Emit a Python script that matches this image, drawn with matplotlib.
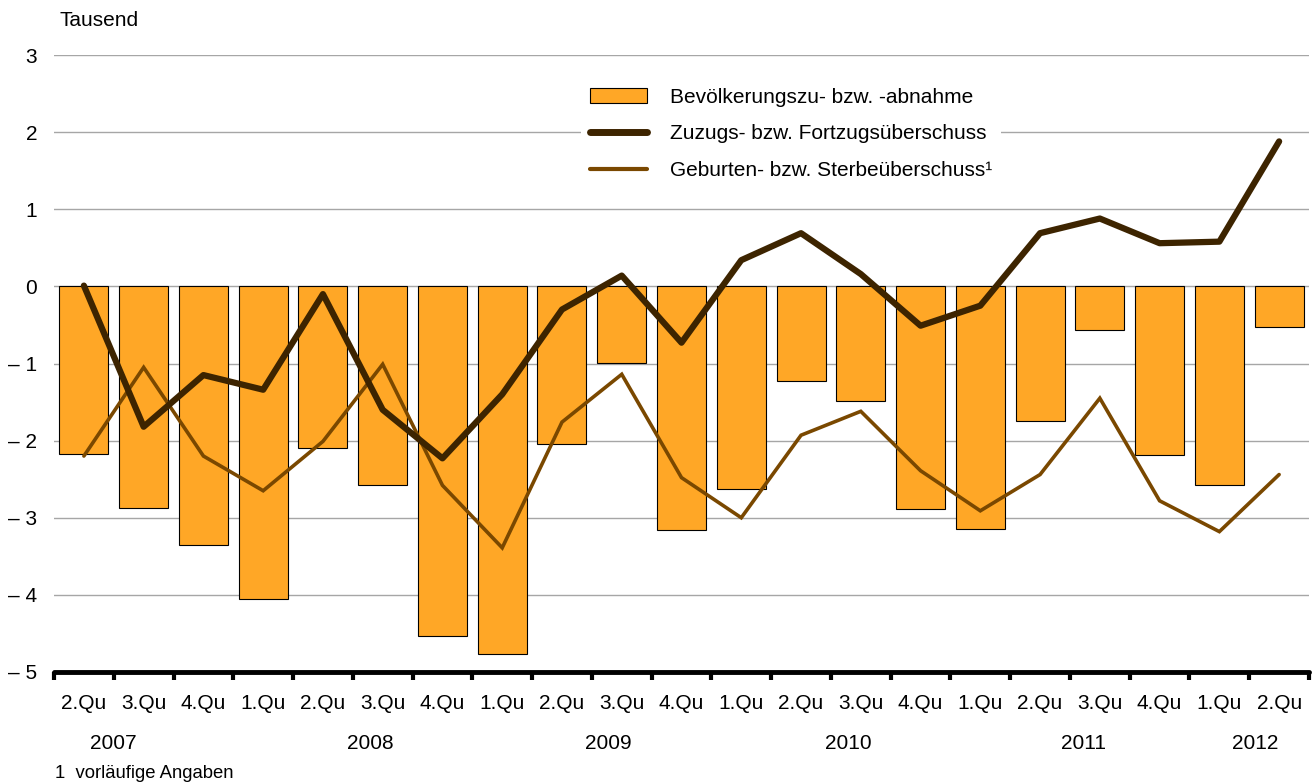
import matplotlib
matplotlib.use("Agg")
import matplotlib.pyplot as plt
import numpy as np
from matplotlib.patches import Patch
from matplotlib.lines import Line2D

plt.rcParams['font.family'] = ['Liberation Sans', 'DejaVu Sans']

quarters = ["2.Qu", "3.Qu", "4.Qu",
            "1.Qu", "2.Qu", "3.Qu", "4.Qu",
            "1.Qu", "2.Qu", "3.Qu", "4.Qu",
            "1.Qu", "2.Qu", "3.Qu", "4.Qu",
            "1.Qu", "2.Qu", "3.Qu", "4.Qu",
            "1.Qu", "2.Qu"]
years = ["2007", "2008", "2009", "2010", "2011", "2012"]
year_pos = [0.49, 4.79, 8.77, 12.79, 16.72, 19.6]

bevoelkerung = [-2.18, -2.87, -3.35, -4.05, -2.10, -2.58, -4.53, -4.77, -2.05, -0.99,
                -3.16, -2.63, -1.23, -1.49, -2.89, -3.14, -1.74, -0.56, -2.19, -2.58, -0.53]
zuzug = [0.01, -1.82, -1.15, -1.34, -0.10, -1.60, -2.23, -1.40, -0.30, 0.14,
         -0.73, 0.34, 0.69, 0.16, -0.51, -0.25, 0.69, 0.88, 0.56, 0.58, 1.88]
geburten = [-2.20, -1.05, -2.20, -2.65, -2.01, -1.01, -2.58, -3.39, -1.76, -1.14,
            -2.48, -3.00, -1.93, -1.62, -2.39, -2.91, -2.44, -1.45, -2.78, -3.18, -2.44]

labels = ["Bevölkerungszu- bzw. -abnahme",
          "Zuzugs- bzw. Fortzugsüberschuss",
          "Geburten- bzw. Sterbeüberschuss\u00b9"]

bar_color = "#FFA726"
thick_color = "#3D2400"
thin_color = "#7A4800"
FS = 15

fig = plt.figure(figsize=(13.14, 7.84), dpi=100)
ax = fig.add_axes([0.0411, 0.1429, 0.9551, 0.7869])

x = np.arange(len(quarters))
ax.set_xlim(-0.5, len(quarters) - 0.5)
ax.set_ylim(-5, 3)

yticks = np.arange(-5, 4)
for yv in yticks[1:]:
    ax.axhline(yv, color="#A6A6A6", lw=1.0, zorder=0)

ax.bar(x, bevoelkerung, width=0.82, color=bar_color, edgecolor="black", linewidth=0.8, zorder=2)
ax.plot(x, geburten, color=thin_color, lw=2.6, zorder=3, solid_joinstyle='miter', solid_capstyle='round')
ax.plot(x, zuzug, color=thick_color, lw=4.5, zorder=4, solid_joinstyle='round', solid_capstyle='round')

for s in ['top', 'right', 'left']:
    ax.spines[s].set_visible(False)
ax.spines['bottom'].set_linewidth(3.5)
ax.spines['bottom'].set_capstyle('round')

ax.set_yticks(yticks)
ax.set_yticklabels([("\u2013 %d" % -v) if v < 0 else "%d" % v for v in yticks], fontsize=FS)
ax.tick_params(axis='y', length=0, pad=12)

ax.set_xticks(np.arange(-0.5, len(quarters) + 0.5, 1.0))
ax.set_xticklabels([])
ax.tick_params(axis='x', length=6, width=3, direction='out', color='black')
for i, q in enumerate(quarters):
    ax.text(i, -5.28, q, ha='center', va='top', fontsize=FS)
for p, yr in zip(year_pos, years):
    ax.text(p, -5.80, yr, ha='center', va='top', fontsize=FS)

fig.text(60 / 1314, 1 - 21 / 784, "Tausend", ha='left', va='center', fontsize=FS)
fig.text(55 / 1314, 1 - 773 / 784, "1  vorläufige Angaben", ha='left', va='center', fontsize=13.3)

handles = [Patch(facecolor=bar_color, edgecolor='black', linewidth=0.8),
           Line2D([], [], color=thick_color, lw=5.0, solid_capstyle='round'),
           Line2D([], [], color=thin_color, lw=3.0, solid_capstyle='round')]
leg = ax.legend(handles, labels, loc='upper left', bbox_to_anchor=(571 / 1314, 1 - 69 / 784),
                bbox_transform=fig.transFigure, frameon=True, facecolor='white', edgecolor='none',
                framealpha=1.0, fontsize=FS, handlelength=2.75, handleheight=0.75, handletextpad=1.1,
                labelspacing=0.85, borderpad=0.4, fancybox=False)
leg.set_zorder(5)

fig.savefig("out.png", dpi=100)
